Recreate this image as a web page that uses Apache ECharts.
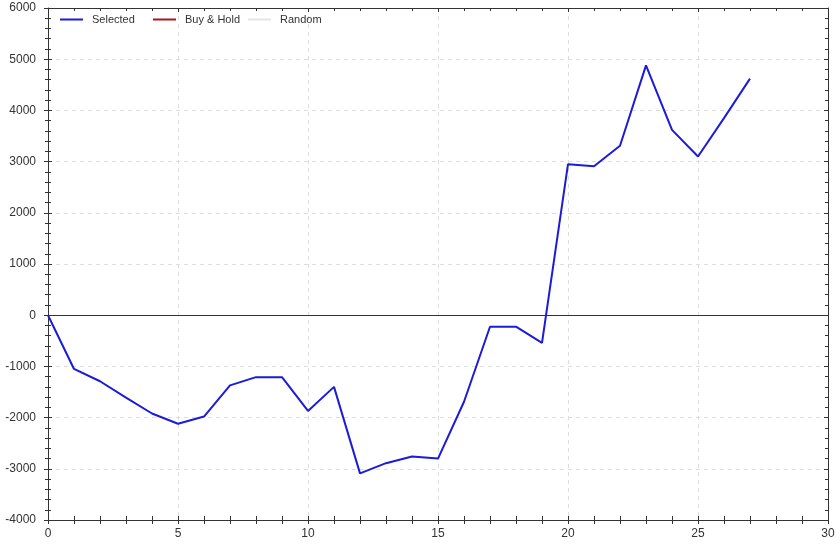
<!DOCTYPE html>
<html>
<head>
<meta charset="utf-8">
<script src="https://cdn.jsdelivr.net/npm/echarts@6/dist/echarts.min.js"></script>
<style>
  html, body { margin: 0; padding: 0; background: #fff; }
  #chart { width: 840px; height: 544px; }
</style>
</head>
<body>
<div id="chart"></div>
<script>
// Equity curve values, one per trade index
const steps = [0, 1, 2, 3, 4, 5, 6, 7, 8, 9, 10, 11, 12, 13, 14, 15, 16, 17, 18, 19, 20, 21, 22, 23, 24, 25, 26, 27];
const selected = [0, -1050, -1290, -1610, -1920, -2120, -1980, -1370, -1210, -1210, -1870, -1400,
  -3090, -2890, -2760, -2800, -1690, -225, -225, -540, 2950, 2910, 3310, 4880, 3620, 3100, 3850, 4620];
const buyHold = [];
const random = [];
const seriesNames = ["Selected", "Buy & Hold", "Random"];

const chart = echarts.init(document.getElementById("chart"));

const font = "Liberation Sans, Arial, sans-serif";
const axisColor = "#333";

// shared settings for the frame axes
const xBase = { type: "value", min: 0, max: 30, interval: 5 };
const yBase = { type: "value", min: -4000, max: 6000, interval: 1000 };

// one legend per entry so each sits in its own fixed-width slot
const legendLeft = [60, 153, 248];
const legends = seriesNames.map((name, i) => ({
  left: legendLeft[i],
  top: 14,
  padding: 0,
  icon: "rect",
  itemWidth: 23,
  itemHeight: 2,
  textStyle: { fontFamily: font, fontSize: 11, color: "#333", padding: [0, 0, 0, 4] },
  data: [name],
}));

const option = {
  animation: false,
  grid: { left: 48, right: 12, top: 8, bottom: 24 },
  legend: legends,
  xAxis: [
    {
      ...xBase,
      position: "bottom",
      axisLine: { onZero: false, lineStyle: { color: axisColor } },
      axisTick: { length: 4, lineStyle: { color: axisColor } },
      minorTick: { show: true, splitNumber: 5, length: 4, lineStyle: { color: axisColor } },
      axisLabel: { fontFamily: font, fontSize: 12, color: "#333", margin: 8 },
      splitLine: { show: true, lineStyle: { color: "#ddd", type: [4, 4] } },
    },
    {
      ...xBase,
      position: "bottom",
      axisLine: { show: false, onZero: false },
      axisTick: { inside: true, length: 4, lineStyle: { color: axisColor } },
      minorTick: { show: true, splitNumber: 5, length: 4, lineStyle: { color: axisColor } },
      axisLabel: { show: false },
      splitLine: { show: false },
    },
    {
      ...xBase,
      position: "top",
      axisLine: { onZero: false, lineStyle: { color: axisColor } },
      axisTick: { inside: true, length: 4, lineStyle: { color: axisColor } },
      minorTick: { show: true, splitNumber: 5, length: 3, lineStyle: { color: axisColor } },
      axisLabel: { show: false },
      splitLine: { show: false },
    },
  ],
  yAxis: [
    {
      ...yBase,
      position: "left",
      axisLine: { show: true, onZero: false, lineStyle: { color: axisColor } },
      axisTick: { show: true, length: 4, lineStyle: { color: axisColor } },
      minorTick: { show: true, splitNumber: 5, length: 3, lineStyle: { color: axisColor } },
      axisLabel: { fontFamily: font, fontSize: 12, color: "#333", margin: 12, formatter: (v) => String(v) },
      splitLine: { show: true, lineStyle: { color: "#ddd", type: [4, 4] } },
    },
    {
      ...yBase,
      position: "left",
      axisLine: { show: false, onZero: false },
      axisTick: { show: true, inside: true, length: 4, lineStyle: { color: axisColor } },
      minorTick: { show: true, splitNumber: 5, length: 3, lineStyle: { color: axisColor } },
      axisLabel: { show: false },
      splitLine: { show: false },
    },
    {
      ...yBase,
      position: "right",
      axisLine: { show: true, onZero: false, lineStyle: { color: axisColor } },
      axisTick: { show: true, inside: true, length: 4, lineStyle: { color: axisColor } },
      minorTick: { show: true, splitNumber: 5, length: 3, lineStyle: { color: axisColor } },
      axisLabel: { show: false },
      splitLine: { show: false },
    },
  ],
  series: [
    {
      name: seriesNames[0],
      type: "line",
      data: steps.map((s, i) => [s, selected[i]]),
      showSymbol: false,
      lineStyle: { color: "#1b1bd8", width: 2 },
      itemStyle: { color: "#1b1bd8" },
      z: 3,
      markLine: {
        silent: true,
        symbol: "none",
        label: { show: false },
        lineStyle: { color: "#333", type: "solid", width: 1 },
        data: [{ yAxis: 0 }],
      },
    },
    {
      name: seriesNames[1],
      type: "line",
      data: buyHold,
      showSymbol: false,
      lineStyle: { color: "#a8141c", width: 2 },
      itemStyle: { color: "#a8141c" },
    },
    {
      name: seriesNames[2],
      type: "line",
      data: random,
      showSymbol: false,
      lineStyle: { color: "#e4e4e4", width: 2 },
      itemStyle: { color: "#e4e4e4" },
    },
  ],
};

chart.setOption(option);
</script>
</body>
</html>
